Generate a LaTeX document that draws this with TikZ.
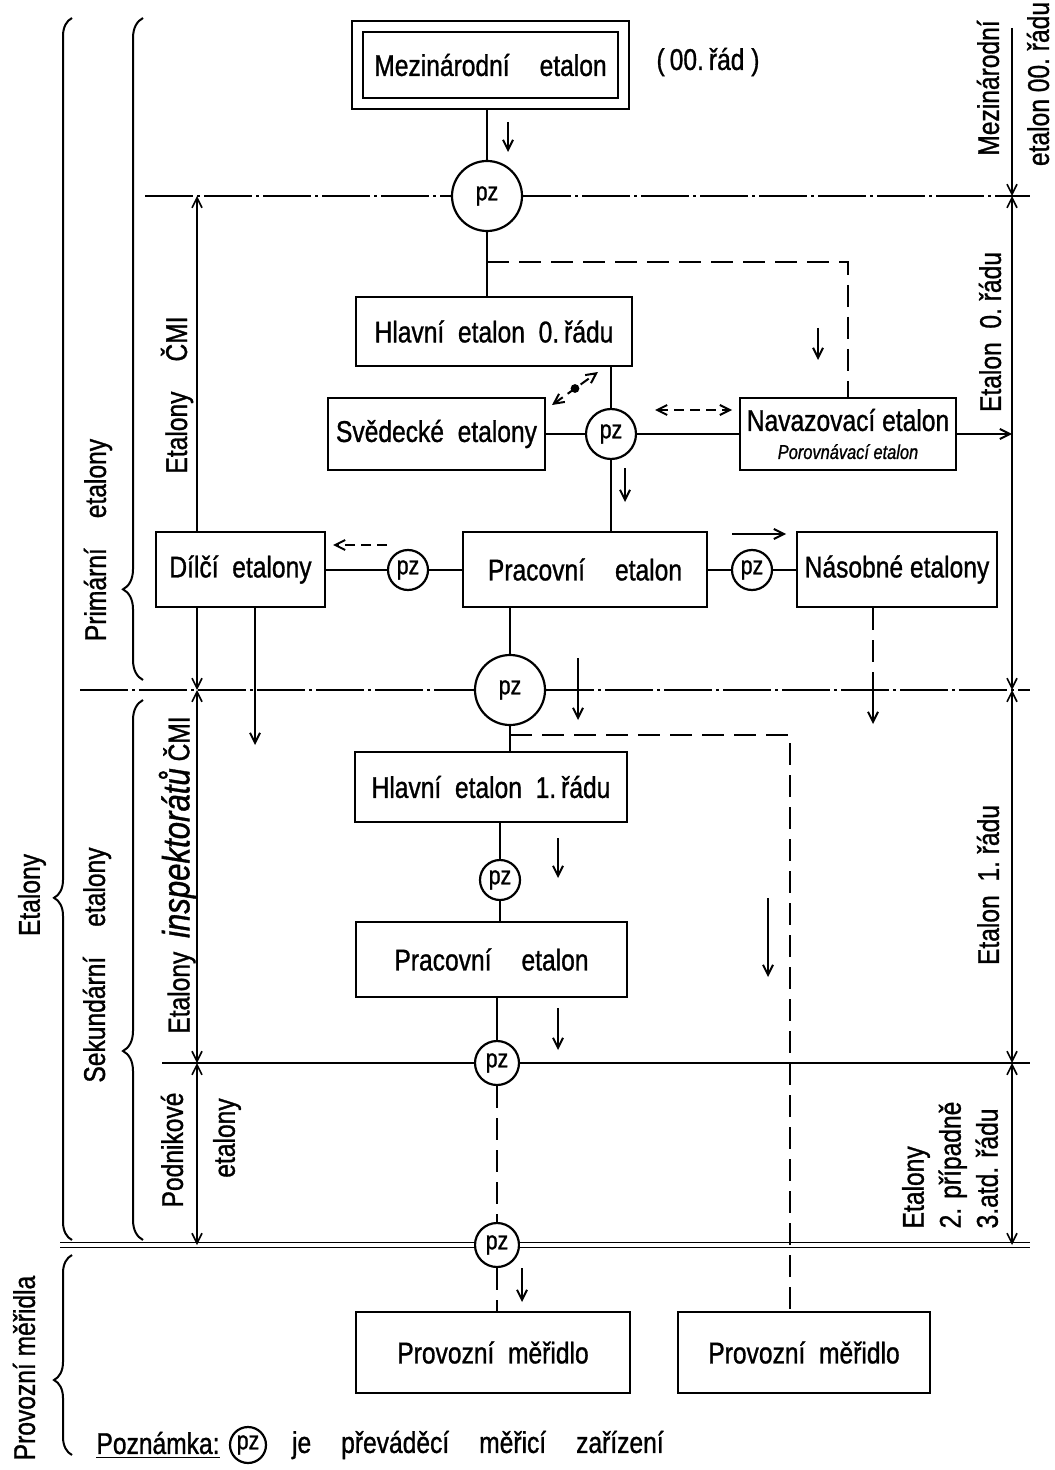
\documentclass[tikz,border=0pt]{standalone}
\usepackage{fontspec}
\setmainfont{Liberation Sans}[FakeStretch=0.82,FakeBold=1]
\usetikzlibrary{arrows.meta,decorations.pathreplacing,fit,calc}
\begin{document}
\begin{tikzpicture}[x=0.5pt,y=-0.5pt,
  font=\fontsize{15}{17}\selectfont,
  box/.style={draw,line width=1.2pt,inner sep=0pt,align=center},
  bx/.style 2 args={box,minimum width=#1*0.5pt,minimum height=#2*0.5pt},
  pz/.style={draw,circle,line width=1.1pt,inner sep=0pt,minimum size=#1*0.5pt,font=\fontsize{13}{14}\selectfont},
  ln/.style={line width=1pt},
  dsh/.style={line width=1pt,dash pattern=on 11pt off 5pt},
  sdsh/.style={line width=1pt,dash pattern=on 5pt off 3pt},
  sepdd/.style={line width=0.9pt,dash pattern=on 24pt off 2pt on 1.5pt off 2pt},
  arr/.style={-{Straight Barb[length=5pt,width=5pt]}},
  barr/.style={{Straight Barb[length=5pt,width=5pt]}-{Straight Barb[length=5pt,width=5pt]}},
  dimln/.style={line width=0.8pt},
  lbl/.style={rotate=90},
]
\useasboundingbox (0,0) rectangle (1054,1470);

% ---------- boxes ----------
\node[bx={255}{66}] (mez) at (490.5,65) {Mezinárodní\quad etalon};
\node[draw,line width=1.2pt,fit=(mez),inner sep=5pt] (mezout) {};
\node (ord) at (708,62) {(\,00.\,řád\ )};
\node[bx={276}{69}] (hl0) at (494,331.5) {Hlavní\ \ etalon\ \ 0.\,řádu};
\node[bx={217}{72}] (sved) at (436.5,434) {Svědecké\ \ etalony};
\node[bx={216}{72}] (nav) at (848,434) {Navazovací etalon\\[-3pt]{\fontsize{10}{11}\selectfont\itshape Porovnávací etalon}};
\node[bx={169}{75}] (dil) at (240.5,569.5) {Dílčí\ \ etalony};
\node[bx={244}{75}] (prac1) at (585,569.5) {Pracovní\quad etalon};
\node[bx={200}{75}] (nas) at (897,569.5) {Násobné etalony};
\node[bx={272}{70}] (hl1) at (491,787) {Hlavní\ \ etalon\ \ 1.\,řádu};
\node[bx={271}{75}] (prac2) at (491.5,959.5) {Pracovní\quad etalon};
\node[bx={274}{81}] (prov1) at (493,1352.5) {Provozní\ \ měřidlo};
\node[bx={252}{81}] (prov2) at (804,1352.5) {Provozní\ \ měřidlo};

% ---------- pz circles ----------
\node[pz=70] (pz1) at (487,196) {pz};
\node[pz=50] (pz2) at (611,434) {pz};
\node[pz=40] (pz3) at (408,570) {pz};
\node[pz=40] (pz4) at (752,570) {pz};
\node[pz=70] (pz5) at (510,690) {pz};
\node[pz=40] (pz6) at (500,880) {pz};
\node[pz=44] (pz7) at (497,1063) {pz};
\node[pz=44] (pz8) at (497,1245) {pz};

% ---------- separators ----------
\coordinate (s1l) at (145,196); \coordinate (s1r) at (1030,196);
\coordinate (s2l) at (80,690);  \coordinate (s2r) at (1030,690);
\coordinate (s3l) at (162,1063); \coordinate (s3r) at (1030,1063);
\coordinate (s4l) at (60,1245); \coordinate (s4r) at (1030,1245);
\draw[sepdd] (s1l) -- (pz1.west); \draw[sepdd] (pz1.east) -- (s1r);
\draw[sepdd] (s2l) -- (pz5.west); \draw[sepdd] (pz5.east) -- (s2r);
\draw[ln] (s3l) -- (pz7.west); \draw[ln] (pz7.east) -- (s3r);
\draw[line width=0.8pt,double,double distance=1.6pt] (s4l) -- (pz8.west);
\draw[line width=0.8pt,double,double distance=1.6pt] (pz8.east) -- (s4r);

% ---------- connectors ----------
\draw[ln] (mezout.south -| pz1.north) -- (pz1.north);
\draw[ln] (pz1.south) -- (pz1.south |- hl0.north);
\coordinate (d1a) at (487,262); \coordinate (d1b) at (848,262);
\draw[dsh] (d1a) -- (d1b) -- (nav.north);
\draw[ln] (pz2.north |- hl0.south) -- (pz2.north);
\draw[ln] (sved.east |- pz2.west) -- (pz2.west);
\draw[ln] (pz2.east) -- (nav.west |- pz2.east);
\draw[ln] (pz2.south) -- (pz2.south |- prac1.north);
\coordinate (rn) at (1012,434);
\draw[ln,arr] (nav.east) -- (rn);
\draw[ln] (dil.east |- pz3.west) -- (pz3.west);
\draw[ln] (pz3.east) -- (prac1.west |- pz3.east);
\draw[ln] (prac1.east |- pz4.west) -- (pz4.west);
\draw[ln] (pz4.east) -- (nas.west |- pz4.east);
\draw[ln] (pz5.north |- prac1.south) -- (pz5.north);
\draw[ln] (pz5.south) -- (pz5.south |- hl1.north);
\coordinate (d2a) at (510,735); \coordinate (d2b) at (790,735);
\draw[dsh] (d2a) -- (d2b) -- (d2b |- prov2.north);
\draw[ln] (pz6.north |- hl1.south) -- (pz6.north);
\draw[ln] (pz6.south) -- (pz6.south |- prac2.north);
\draw[ln] (pz7.north |- prac2.south) -- (pz7.north);
\draw[dsh] (pz7.south) -- (pz8.north);
\draw[dsh] (pz8.south) -- (pz8.south |- prov1.north);
\coordinate (nb) at (873,690); \coordinate (nbe) at (873,724);
\draw[dsh] (nb |- nas.south) -- (nb);
\draw[ln,arr] (nb) -- (nbe);
\coordinate (dbe) at (255,745);
\draw[ln,arr] (dbe |- dil.south) -- (dbe);

% ---------- direction arrows ----------
\coordinate (a1s) at (508,122); \coordinate (a1e) at (508,152);
\draw[ln,arr] (a1s) -- (a1e);
\coordinate (a2s) at (818,328); \coordinate (a2e) at (818,360);
\draw[ln,arr] (a2s) -- (a2e);
\coordinate (a3s) at (625,468); \coordinate (a3e) at (625,502);
\draw[ln,arr] (a3s) -- (a3e);
\coordinate (a4s) at (387,545); \coordinate (a4e) at (333,545);
\draw[sdsh,arr] (a4s) -- (a4e);
\coordinate (a5s) at (732,534); \coordinate (a5e) at (786,534);
\draw[ln,arr] (a5s) -- (a5e);
\coordinate (a6s) at (655,410); \coordinate (a6e) at (732,410);
\draw[sdsh,barr] (a6s) -- (a6e);
\coordinate (a7s) at (552,405); \coordinate (a7e) at (598,372);
\draw[sdsh,barr] (a7s) -- (a7e);
\fill ($(a7s)!0.5!(a7e)$) circle (2.2pt);
\coordinate (a8s) at (578,658); \coordinate (a8e) at (578,720);
\draw[ln,arr] (a8s) -- (a8e);
\coordinate (a11s) at (558,838); \coordinate (a11e) at (558,878);
\draw[ln,arr] (a11s) -- (a11e);
\coordinate (a12s) at (768,898); \coordinate (a12e) at (768,977);
\draw[ln,arr] (a12s) -- (a12e);
\coordinate (a13s) at (558,1008); \coordinate (a13e) at (558,1050);
\draw[ln,arr] (a13s) -- (a13e);
\coordinate (a14s) at (522,1268); \coordinate (a14e) at (522,1302);
\draw[ln,arr] (a14s) -- (a14e);

% ---------- dimension lines ----------
\coordinate (L1) at (197,196); \coordinate (L2) at (197,690);
\coordinate (L3) at (197,1063); \coordinate (L4) at (197,1245);
\draw[dimln,arr] (L1 |- dil.north) -- (L1);
\draw[dimln,arr] (L2 |- dil.south) -- (L2);
\draw[dimln,barr] (L2) -- (L3);
\draw[dimln,barr] (L3) -- (L4);
\coordinate (R0) at (1012,28); \coordinate (R1) at (1012,196);
\coordinate (R2) at (1012,690); \coordinate (R3) at (1012,1063);
\coordinate (R4) at (1012,1245);
\draw[dimln,arr] (R0) -- (R1);
\draw[dimln,barr] (R1) -- (R2);
\draw[dimln,barr] (R2) -- (R3);
\draw[dimln,barr] (R3) -- (R4);

% ---------- braces ----------
\coordinate (bE1) at (72,1240); \coordinate (bE2) at (72,18);
\draw[line width=1pt,decorate,decoration={brace,amplitude=9pt,aspect=0.28}] (bE1) -- (bE2);
\coordinate (bP1) at (143,680); \coordinate (bP2) at (143,18);
\draw[line width=1pt,decorate,decoration={brace,amplitude=10pt,aspect=0.137}] (bP1) -- (bP2);
\coordinate (bS1) at (143,1240); \coordinate (bS2) at (143,700);
\draw[line width=1pt,decorate,decoration={brace,amplitude=10pt,aspect=0.35}] (bS1) -- (bS2);
\coordinate (bV1) at (72,1455); \coordinate (bV2) at (72,1255);
\draw[line width=1pt,decorate,decoration={brace,amplitude=9pt,aspect=0.375}] (bV1) -- (bV2);

% ---------- labels ----------
\node[lbl] (tEt) at (32,895) {Etalony};
\node[lbl] (tPri) at (98,540) {Primární\quad etalony};
\node[lbl] (tSek) at (97,965) {Sekundární\quad etalony};
\node[lbl] (tProv) at (24,1368) {Provozní měřidla};
\node[lbl] (tECMI) at (177,395) {Etalony\quad ČMI};
\node[lbl] (tEI) at (178,875) {Etalony\ \ {\fontsize{19}{20}\selectfont\itshape inspektorátů}\ ČMI};
\node[lbl] (tPod) at (172,1150) {Podnikové};
\node[lbl] (tPodE) at (227,1138) {etalony};
\node[lbl] (tMez) at (988,88) {Mezinárodní};
\node[lbl] (tMez2) at (1038,84) {etalon\ 00.\ řádu};
\node[lbl] (tE0) at (990,332) {Etalon\ \ 0.\ řádu};
\node[lbl] (tE1) at (988,885) {Etalon\ \ 1.\ řádu};
\node[lbl,align=left,font=\fontsize{15}{18.5}\selectfont] (tE2) at (950,1165) {Etalony\\2. případně\\3.atd. řádu};

% ---------- note ----------
\node (pozn) at (158,1445) {\underline{Poznámka:}};
\node[pz=36] (pzn) at (248,1445) {pz};
\node[anchor=west] (pozt) at (285,1445) {je\quad převáděcí\quad měřicí\quad zařízení};
\end{tikzpicture}
\end{document}
